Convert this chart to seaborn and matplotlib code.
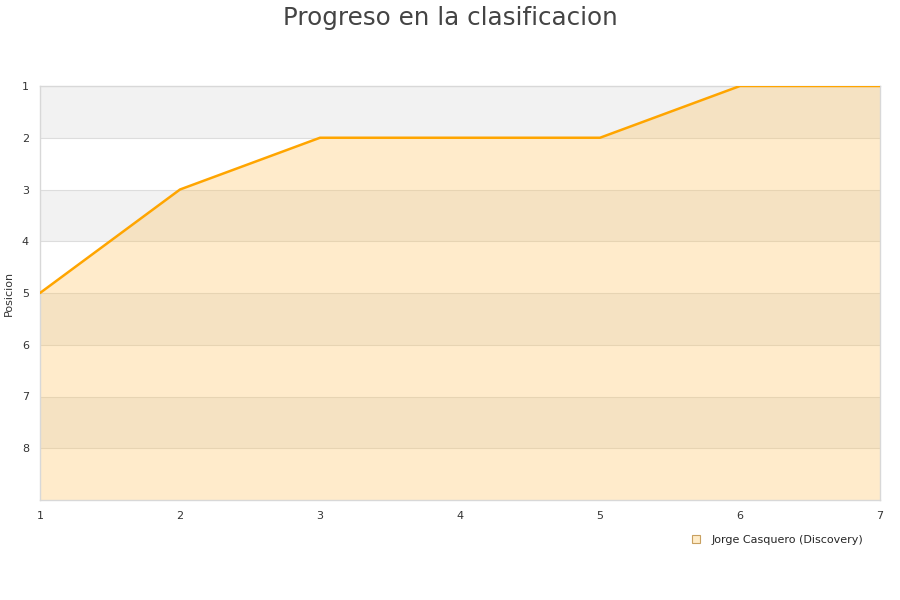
import numpy as np
import pandas as pd
import matplotlib
matplotlib.use("Agg")
import matplotlib.pyplot as plt
from matplotlib.patches import Patch
import seaborn as sns

# datos del progreso
etapas = [1, 2, 3, 4, 5, 6, 7]
posiciones = [5, 3, 2, 2, 2, 1, 1]
corredor = "Jorge Casquero (Discovery)"
titulo = "Progreso en la clasificacion"
etiqueta_y = "Posicion"

df = pd.DataFrame({"etapa": etapas, "posicion": posiciones})

sns.set_theme(style="white")
plt.rcParams['font.family'] = ['DejaVu Sans']

fig = plt.figure(figsize=(9, 6), dpi=100)
ax = fig.add_axes([40 / 900, 100 / 600, 840 / 900, 414 / 600])

fondo = 9
# bandas alternas
for y0 in range(1, fondo, 2):
    ax.axhspan(y0, y0 + 1, color="#f2f2f2", zorder=0, lw=0)
for y in range(2, fondo):
    ax.axhline(y, color="#dddddd", lw=0.8, zorder=1)

ax.fill_between(df["etapa"], df["posicion"], fondo, color="#ffc055", alpha=0.3, lw=0, zorder=2)
sns.lineplot(data=df, x="etapa", y="posicion", color="#ffa500", lw=1.8, ax=ax, zorder=3, legend=False)

ax.set_xlim(1, 7)
ax.set_ylim(fondo, 1)
ax.set_xticks(etapas)
ax.set_yticks(range(1, fondo))
ax.tick_params(axis="both", labelsize=8, colors="#333333", length=0, pad=8)
ax.set_xlabel("")
ax.set_ylabel(etiqueta_y, fontsize=8, color="#333333")
ax.yaxis.set_label_coords(-0.031, 0.5)
for s in ax.spines.values():
    s.set_color("#d8d8d8")
    s.set_linewidth(1)

fig.suptitle(titulo, fontsize=17.7, color="#444444", y=0.99)

handle = Patch(facecolor="#ffecc8", edgecolor="#c8a060", lw=0.8)
fig.legend([handle], [corredor], loc="lower right", bbox_to_anchor=(0.97, 0.075),
           frameon=False, fontsize=8, handlelength=0.7, handleheight=0.7, handletextpad=1.0)

fig.savefig("out.png", dpi=100)
